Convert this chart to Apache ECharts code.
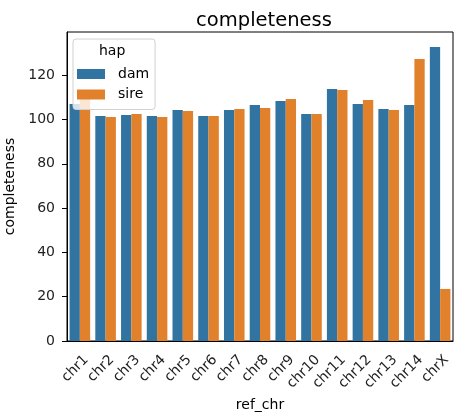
<!DOCTYPE html>
<html>
<head>
<meta charset="utf-8">
<script src="https://cdn.jsdelivr.net/npm/echarts@6/dist/echarts.min.js"></script>
<style>
  html, body { margin: 0; padding: 0; background: #fff; }
  #chart { width: 466px; height: 418px; }
</style>
</head>
<body>
<div id="chart"></div>
<script>
var chromosomes = ["chr1", "chr2", "chr3", "chr4", "chr5", "chr6", "chr7", "chr8",
  "chr9", "chr10", "chr11", "chr12", "chr13", "chr14", "chrX"];
var damValues = [107.0, 101.6, 102.0, 101.6, 104.3, 101.6, 104.3, 106.5,
  108.4, 102.5, 113.8, 107.0, 104.7, 106.5, 132.7];
var sireValues = [110.2, 101.1, 102.5, 101.1, 103.8, 101.6, 104.7, 105.2,
  109.3, 102.5, 113.3, 108.8, 104.3, 127.3, 23.5];
var yTicks = [0, 20, 40, 60, 80, 100, 120];

var font = "DejaVu Sans";
var chart = echarts.init(document.getElementById("chart"));

var option = {
  animation: false,
  textStyle: { fontFamily: font },
  title: {
    text: "completeness",
    left: 259,
    top: 6,
    textAlign: "center",
    textStyle: { fontFamily: font, fontSize: 19.5, fontWeight: "normal", color: "#000" }
  },
  legend: {
    orient: "vertical",
    left: 73,
    top: 39,
    data: ["dam", "sire"],
    icon: "rect",
    itemWidth: 28,
    itemHeight: 10,
    itemGap: 6.5,
    padding: [28, 6, 8, 4],
    backgroundColor: "rgba(255,255,255,0.8)",
    borderColor: "#d0d0d0",
    borderWidth: 1,
    borderRadius: 3,
    textStyle: { fontFamily: font, fontSize: 14, color: "#000", padding: [0, 0, 0, 8] }
  },
  graphic: [{
    type: "text",
    left: 99,
    top: 44,
    z: 100,
    style: { text: "hap", font: "14px DejaVu Sans", fill: "#000" }
  }],
  grid: {
    left: 67, right: 13, top: 32, bottom: 77,
    outerBoundsMode: "none",
    show: true, borderColor: "#000", borderWidth: 1
  },
  xAxis: {
    type: "category",
    data: chromosomes,
    name: "ref_chr",
    nameLocation: "middle",
    nameGap: 49,
    nameTextStyle: { fontFamily: font, fontSize: 14, color: "#000" },
    axisLine: { lineStyle: { color: "#000" } },
    axisTick: { alignWithLabel: true, length: 5, lineStyle: { color: "#000" } },
    axisLabel: {
      interval: 0, rotate: 45, margin: 23,
      padding: [17, -9, 0, 0],
      fontFamily: font, fontSize: 14, color: "#222"
    }
  },
  yAxis: {
    type: "value",
    min: 0,
    max: 139.5,
    interval: 20,
    name: "completeness",
    nameLocation: "middle",
    nameGap: 41,
    nameTextStyle: { fontFamily: font, fontSize: 14, color: "#000" },
    splitLine: { show: false },
    axisLine: { show: true, lineStyle: { color: "#000" } },
    axisTick: { show: true, length: 5, customValues: yTicks, lineStyle: { color: "#000" } },
    axisLabel: { customValues: yTicks, margin: 12, fontFamily: font, fontSize: 14, color: "#222" }
  },
  series: [
    {
      name: "dam", type: "bar", data: damValues,
      itemStyle: { color: "#3274a1" },
      barGap: "0%", barCategoryGap: "20%"
    },
    {
      name: "sire", type: "bar", data: sireValues,
      itemStyle: { color: "#e1812c" },
      barGap: "0%", barCategoryGap: "20%"
    }
  ]
};

chart.setOption(option);
</script>
</body>
</html>
